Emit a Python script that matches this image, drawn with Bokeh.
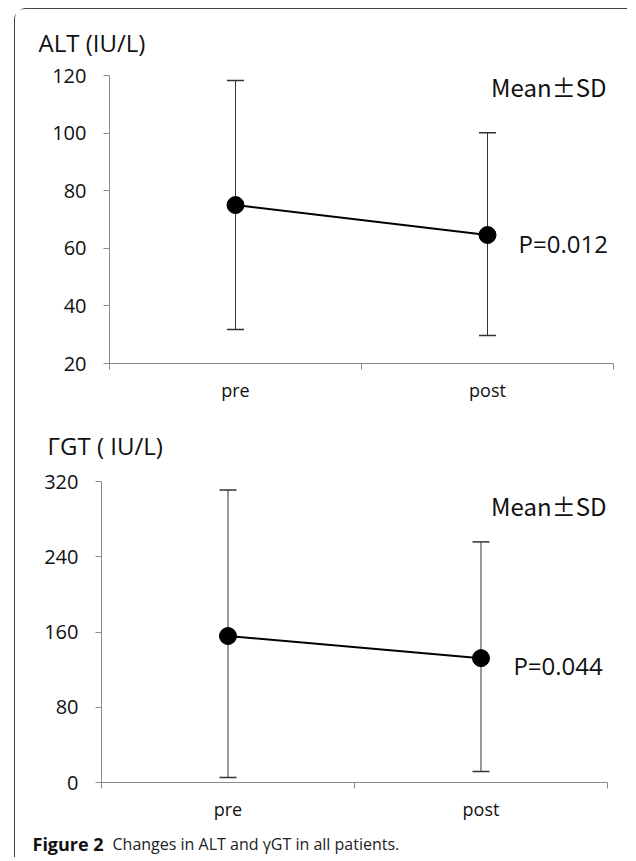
from bokeh.plotting import figure
from bokeh.models import (FixedTicker, Whisker, ColumnDataSource, Label, TeeHead, Range1d)
from bokeh.layouts import column
from bokeh.embed import file_html
from bokeh.resources import INLINE

# ---- data ----
categories = ["pre", "post"]
alt_mean = [75, 64.6]
alt_upper = [118.3, 100.1]
alt_lower = [31.8, 29.7]
ggt_mean = [155.7, 132.2]
ggt_upper = [311.0, 255.8]
ggt_lower = [5.3, 11.7]
alt_ticks = [20, 40, 60, 80, 100, 120]
ggt_ticks = [0, 80, 160, 240, 320]
alt_title = "ALT (IU/L)"
ggt_title = "\u0393GT ( IU/L)"
alt_p = "P=0.012"
ggt_p = "P=0.044"
caption_bold = "Figure 2"
caption_text = "Changes in ALT and \u03b3GT in all patients."

FONT = "Open Sans"
AXIS_COLOR = "#8a8a8a"
WIDTH = 612
cat_x = [0.5, 1.5]


def text_strip(height):
    s = figure(width=WIDTH, height=height, output_backend="svg",
               toolbar_location=None, x_range=Range1d(0, WIDTH),
               y_range=Range1d(0, height), x_axis_type=None, y_axis_type=None,
               min_border=0, outline_line_color=None)
    s.grid.visible = False
    return s


def title_strip(title, x, y, height=54):
    s = text_strip(height)
    s.add_layout(Label(x=x, y=y, text=title, text_font=FONT,
                       text_font_size="24px", text_baseline="middle",
                       text_align="left", text_color="#111111"))
    return s


def make_chart(mean, upper, lower, yticks, ptext, ppos, mpos,
               h_top, h_frame, h_bottom, b_left, w_frame):
    p = figure(width=WIDTH, height=h_top + h_frame + h_bottom,
               output_backend="svg", toolbar_location=None,
               x_range=Range1d(0, 2), y_range=Range1d(yticks[0], yticks[-1]),
               min_border_left=b_left, min_border_right=WIDTH - b_left - w_frame,
               min_border_top=h_top, min_border_bottom=h_bottom)
    p.outline_line_color = None
    p.grid.visible = False
    p.background_fill_color = "white"
    p.border_fill_color = "white"

    src = ColumnDataSource(dict(x=cat_x, mean=mean, upper=upper, lower=lower))
    w = Whisker(base="x", upper="upper", lower="lower", source=src,
                line_color="#333333", line_width=1,
                upper_head=TeeHead(size=17, line_color="#333333", line_width=1.5),
                lower_head=TeeHead(size=17, line_color="#333333", line_width=1.5),
                level="underlay")
    p.add_layout(w)
    p.line("x", "mean", source=src, line_color="black", line_width=2)
    p.scatter("x", "mean", source=src, size=17, color="black")

    # axes
    p.yaxis.ticker = FixedTicker(ticks=yticks)
    p.yaxis.axis_line_color = AXIS_COLOR
    p.yaxis.major_tick_line_color = AXIS_COLOR
    p.yaxis.major_tick_out = 6
    p.yaxis.major_tick_in = 0
    p.yaxis.minor_tick_line_color = None
    p.yaxis.major_label_text_font = FONT
    p.yaxis.major_label_text_font_size = "20px"
    p.yaxis.major_label_text_color = "#111111"
    p.yaxis.major_label_standoff = 17

    p.xaxis.ticker = FixedTicker(ticks=cat_x, minor_ticks=[0, 1, 2])
    p.xaxis.major_label_overrides = {cat_x[0]: categories[0], cat_x[1]: categories[1]}
    p.xaxis.axis_line_color = AXIS_COLOR
    p.xaxis.major_tick_line_color = None
    p.xaxis.major_tick_out = 0
    p.xaxis.major_tick_in = 0
    p.xaxis.minor_tick_line_color = AXIS_COLOR
    p.xaxis.minor_tick_out = 6
    p.xaxis.minor_tick_in = 0
    p.xaxis.major_label_text_font = FONT
    p.xaxis.major_label_text_font_size = "18px"
    p.xaxis.major_label_text_color = "#111111"
    p.xaxis.major_label_standoff = 8

    p.add_layout(Label(x=mpos[0], y=mpos[1], text="Mean\u00b1SD",
                       text_font="Noto Sans CJK JP",
                       text_font_size="24px", text_align="right",
                       text_baseline="middle", text_color="#111111"))
    p.add_layout(Label(x=ppos[0], y=ppos[1], text=ptext, text_font=FONT,
                       text_font_size="24px", text_align="left",
                       text_baseline="middle", text_color="#111111"))
    return p


top_title = title_strip(alt_title, 23, 21)
top = make_chart(alt_mean, alt_upper, alt_lower, alt_ticks,
                 alt_p, (1.623, 61.7), (1.972, 116.2),
                 h_top=12, h_frame=288, h_bottom=52, b_left=94, w_frame=504)
bottom_title = title_strip(ggt_title, 32, 24)
bottom = make_chart(ggt_mean, ggt_upper, ggt_lower, ggt_ticks,
                    ggt_p, (1.628, 124.5), (1.996, 294.5),
                    h_top=12, h_frame=301, h_bottom=43, b_left=86, w_frame=506)

cap = text_strip(32)
cap.add_layout(Label(x=17, y=14, text=caption_bold, text_font=FONT,
                     text_font_size="18px", text_font_style="bold",
                     text_baseline="middle", text_color="#111111"))
cap.add_layout(Label(x=97, y=14, text=caption_text,
                     text_font=FONT, text_font_size="16px",
                     text_baseline="middle", text_color="#222222"))

layout = column(column(top_title), column(top), column(bottom_title),
                column(bottom), column(cap),
                styles={"border-top": "1px solid #444444",
                        "border-left": "1px solid #444444",
                        "border-top-left-radius": "12px",
                        "margin-left": "14px",
                        "margin-top": "8px"})

open("out.html", "w").write(file_html(layout, INLINE))
